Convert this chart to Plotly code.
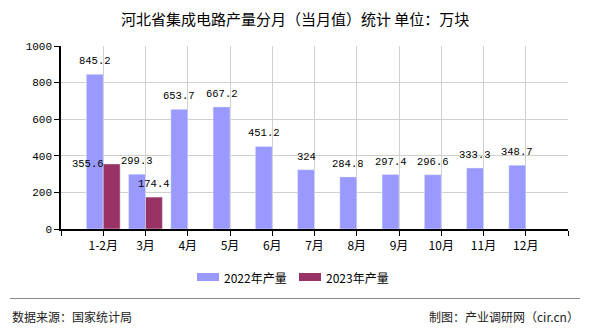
import plotly.graph_objects as go

categories = ["1-2月", "3月", "4月", "5月", "6月", "7月", "8月", "9月", "10月", "11月", "12月"]
values_2022 = [845.2, 299.3, 653.7, 667.2, 451.2, 324, 284.8, 297.4, 296.6, 333.3, 348.7]
values_2023 = [355.6, 174.4]
series_names = ["2022年产量", "2023年产量"]
colors = ["#9999FF", "#993366"]
title_text = "河北省集成电路产量分月（当月值）统计 单位：万块"
source_text = "数据来源：国家统计局"
credit_text = "制图：产业调研网（cir.cn）"

W, H = 590, 330
L, R, T, B = 61, 22, 46, 101
PW, PH = W - L - R, H - T - B

def px(x):
    return (x - L) / PW

def py(y):
    return (H - B - y) / PH

num_font = "Liberation Mono, Noto Sans CJK SC"
cjk_font = "Noto Sans CJK SC, sans-serif"

xs = list(range(len(categories)))
fig = go.Figure()
fig.add_trace(go.Bar(x=xs, y=values_2022, name=series_names[0], marker_color=colors[0],
                     offsetgroup="a", showlegend=False))
fig.add_trace(go.Bar(x=xs[:len(values_2023)], y=values_2023, name=series_names[1],
                     marker_color=colors[1], offsetgroup="b", showlegend=False))

annotations = []
lab_font = dict(family=num_font, size=10.5, color="#000")
for i, v in enumerate(values_2022):
    annotations.append(dict(x=i - 0.2, y=v, text=str(v), showarrow=False, yanchor="bottom",
                            yshift=5, font=lab_font))
for i, v in enumerate(values_2023):
    if i == 0:
        annotations.append(dict(x=i - 0.37, y=v, text=str(v), showarrow=False, yanchor="middle",
                                font=lab_font))
    else:
        annotations.append(dict(x=i + 0.2, y=v, text=str(v), showarrow=False, yanchor="bottom",
                                yshift=5, font=lab_font))

annotations.append(dict(xref="paper", yref="paper", x=px(295), y=py(18), text=title_text,
                        showarrow=False, xanchor="center", yanchor="middle",
                        font=dict(family=cjk_font, size=15, color="#000")))
shapes = []
leg_items = [(197, series_names[0], colors[0]), (299, series_names[1], colors[1])]
for x0, name, c in leg_items:
    shapes.append(dict(type="rect", xref="paper", yref="paper", x0=px(x0), x1=px(x0 + 22),
                       y0=py(281), y1=py(273), fillcolor=c, line=dict(width=0)))
    annotations.append(dict(xref="paper", yref="paper", x=px(x0 + 25), y=py(277), text=name,
                            showarrow=False, xanchor="left", yanchor="middle",
                            font=dict(family=cjk_font, size=12, color="#000")))
shapes.append(dict(type="line", xref="paper", yref="paper", x0=px(10), x1=px(580),
                   y0=py(298.5), y1=py(298.5), line=dict(color="#888", width=1.2)))
annotations.append(dict(xref="paper", yref="paper", x=px(10), y=py(316), text=source_text,
                        showarrow=False, xanchor="left", yanchor="middle",
                        font=dict(family=cjk_font, size=12, color="#222")))
annotations.append(dict(xref="paper", yref="paper", x=px(581), y=py(316), text=credit_text,
                        showarrow=False, xanchor="right", yanchor="middle",
                        font=dict(family=cjk_font, size=12, color="#222")))

fig.update_layout(
    width=W, height=H,
    margin=dict(l=L, r=R, t=T, b=B, pad=0),
    paper_bgcolor="white", plot_bgcolor="white",
    barmode="group", bargap=0.2, bargroupgap=0,
    showlegend=False,
    annotations=annotations, shapes=shapes,
    xaxis=dict(range=[-1, len(categories)], tickvals=xs, ticktext=categories,
               showgrid=True, gridcolor="#d0d0d0", gridwidth=1,
               showline=True, linecolor="#000", linewidth=1.5,
               ticks="outside", ticklen=5, tickcolor="#000",
               minor=dict(tickvals=[-1, len(categories)], ticks="outside", ticklen=5,
                          tickcolor="#000", showgrid=False),
               tickfont=dict(family=cjk_font, size=12, color="#000"), zeroline=False,
               fixedrange=True),
    yaxis=dict(range=[0, 1000], tickvals=[0, 200, 400, 600, 800, 1000],
               showgrid=True, gridcolor="#d0d0d0", gridwidth=1,
               showline=True, linecolor="#000", linewidth=1.5,
               ticks="outside", ticklen=5, tickcolor="#000",
               tickfont=dict(family=num_font, size=11, color="#000"), zeroline=False,
               fixedrange=True),
)

fig.write_html("out.html")
